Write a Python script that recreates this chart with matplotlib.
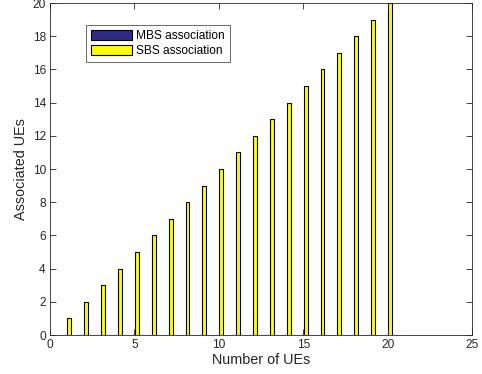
import numpy as np
import matplotlib
matplotlib.use("Agg")
import matplotlib.pyplot as plt

plt.rcParams['font.family'] = ['Liberation Sans', 'DejaVu Sans']

# number of UEs in the network and how many attach to each tier
num_ues = [1, 2, 3, 4, 5, 6, 7, 8, 9, 10, 11, 12, 13, 14, 15, 16, 17, 18, 19, 20]
mbs_assoc = [0, 0, 0, 0, 0, 0, 0, 0, 0, 0, 0, 0, 0, 0, 0, 0, 0, 0, 0, 0]
sbs_assoc = [1, 2, 3, 4, 5, 6, 7, 8, 9, 10, 11, 12, 13, 14, 15, 16, 17, 18, 19, 20]
series_names = ['MBS association', 'SBS association']

fig = plt.figure(figsize=(4.82, 3.74), dpi=100)
ax = fig.add_axes([50 / 482, 1 - 335 / 374, 422 / 482, 332 / 374])

x = np.array(num_ues, dtype=float)
group_w = 2 / 3.5
slot = group_w / 2
bar_w = slot * 0.8
ax.bar(x - slot / 2, mbs_assoc, width=bar_w, color='#2e2b85',
       edgecolor='black', linewidth=0.8, label=series_names[0])
ax.bar(x + slot / 2, sbs_assoc, width=bar_w, color='#ffff00',
       edgecolor='black', linewidth=0.8, label=series_names[1])

ax.set_xlim(0, 25)
ax.set_ylim(0, 20)
ax.set_xticks([0, 5, 10, 15, 20, 25])
ax.set_yticks(range(0, 21, 2))
ax.tick_params(direction='in', top=True, right=True, length=4,
               width=0.6, labelsize=8.6, colors='#262626', pad=3)
for s in ax.spines.values():
    s.set_linewidth(0.6)
    s.set_color('#262626')

ax.set_xlabel('Number of UEs', fontsize=10.4, color='#262626', labelpad=1.5)
ax.set_ylabel('Associated UEs', fontsize=10.4, color='#262626', labelpad=3)

leg = ax.legend(loc='upper left', bbox_to_anchor=(36 / 422, 1 - 22 / 332),
                fontsize=8.6, frameon=True, fancybox=False, edgecolor='#262626',
                handlelength=3.4, handleheight=0.9, handletextpad=0.35,
                borderpad=0.45, labelspacing=0.2, borderaxespad=0)
leg.get_frame().set_linewidth(0.6)

fig.savefig('out.png', dpi=100)
